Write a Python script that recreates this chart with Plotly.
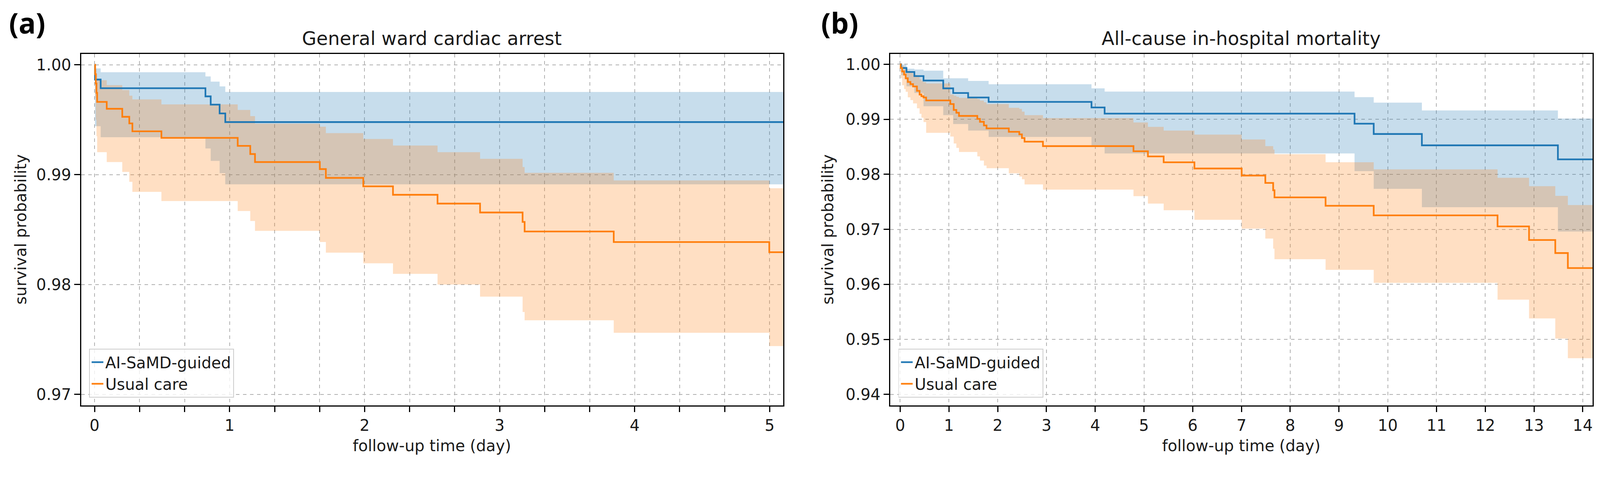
import plotly.graph_objects as go

# reference is 4282x1238; the page viewport works out to about 4096x1184 css px,
# and the body keeps its default 8px margin
K = 4096 / 4282
PAGE_MARGIN = 8
W, H = 4096 - 2 * PAGE_MARGIN, 1184 - 2 * PAGE_MARGIN
FONT = "DejaVu Sans"
TEXT = "#1a1a1a"
BLUE, ORANGE = "#1f77b4", "#ff7f0e"
BLUE_CI, ORANGE_CI = "rgba(31,119,180,0.25)", "rgba(255,127,14,0.25)"

GROUPS = ["AI-SaMD-guided", "Usual care"]

# (a) General ward cardiac arrest
a_ai_days = [0, 0.003, 0.045, 0.821, 0.860, 0.926, 0.968]
a_ai_surv = [1.0, 0.99866, 0.99787, 0.99713, 0.99638, 0.99558, 0.99479]
a_ai_lo = [1.0, 0.99442, 0.99341, 0.99239, 0.99126, 0.99014, 0.98912]
a_ai_hi = [1.0, 0.99967, 0.99933, 0.99894, 0.99847, 0.99804, 0.99753]

a_uc_days = [0, 0.004, 0.009, 0.014, 0.019, 0.09, 0.205, 0.257, 0.28, 0.495, 1.06, 1.153,
             1.188, 1.668, 1.713, 1.99, 2.21, 2.54, 2.855, 3.17, 3.185, 3.845, 4.997]
a_uc_surv = [1.0, 0.99915, 0.9983, 0.99745, 0.99663, 0.9960, 0.99527, 0.99467, 0.99395, 0.99335,
             0.99262, 0.99188, 0.99115, 0.99051, 0.98971, 0.98894, 0.98817, 0.98737, 0.98656,
             0.9857, 0.98483, 0.98387, 0.98294]
a_uc_lo = [1.0, 0.9970, 0.9950, 0.9935, 0.99205, 0.99115, 0.99025, 0.98935, 0.98844, 0.9876,
           0.98669, 0.98579, 0.98489, 0.98387, 0.9829, 0.98193, 0.98097, 0.98, 0.9789, 0.9775,
           0.97675, 0.97561, 0.9744]
a_uc_hi = [1.0, 1.0, 0.9996, 0.9992, 0.9986, 0.99815, 0.9977, 0.99719, 0.99685, 0.9964, 0.99589,
           0.99533, 0.99465, 0.99437, 0.99378, 0.99325, 0.99265, 0.99205, 0.99144, 0.9907,
           0.99017, 0.98948, 0.98877]
a_last_obs = 5.2

# (b) All-cause in-hospital mortality
b_ai_days = [0, 0.02, 0.129, 0.291, 0.479, 0.883, 1.087, 1.394, 1.814, 3.924, 4.193, 9.319,
             9.712, 10.70, 13.49]
b_ai_surv = [1.0, 0.99933, 0.9986, 0.99786, 0.99705, 0.99563, 0.99478, 0.99397, 0.99317,
             0.99215, 0.99103, 0.9892, 0.98733, 0.98527, 0.98272]
b_ai_lo = [1.0, 0.9980, 0.9960, 0.9948, 0.99237, 0.99076, 0.98915, 0.98795, 0.98679, 0.9850,
           0.98379, 0.98058, 0.97736, 0.97402, 0.9696]
b_ai_hi = [1.0, 0.99995, 0.9992, 0.99905, 0.99885, 0.99746, 0.99746, 0.99697, 0.99638, 0.99563,
           0.99504, 0.99403, 0.99304, 0.99162, 0.99014]

b_uc_days = [0, 0.01, 0.04, 0.08, 0.113, 0.156, 0.21, 0.264, 0.344, 0.398, 0.436, 0.479, 0.533,
             1.028, 1.098, 1.152, 1.206, 1.582, 1.636, 1.717, 1.771, 2.228, 2.443, 2.497, 2.551,
             2.928, 4.785, 5.081, 5.404, 6.035, 7.004, 7.489, 7.65, 7.677, 8.725, 9.712, 12.252,
             12.898, 13.436, 13.694]
b_uc_surv = [1.0, 0.99933, 0.9987, 0.99812, 0.99746, 0.99679, 0.9964, 0.99598, 0.99518, 0.99451,
             0.9942, 0.99397, 0.99344, 0.99277, 0.9917, 0.9912, 0.99062, 0.99008, 0.98955,
             0.98888, 0.98835, 0.98773, 0.98727, 0.9866, 0.98594, 0.98513, 0.9842, 0.98326,
             0.98219, 0.98106, 0.97978, 0.97844, 0.9771, 0.97581, 0.97428, 0.97254, 0.97053,
             0.96806, 0.96569, 0.96297]
b_uc_lo = [1.0, 0.9975, 0.9962, 0.9955, 0.9950, 0.9940, 0.9935, 0.9929, 0.9920, 0.9910, 0.9903,
           0.9895, 0.98754, 0.98687, 0.9856, 0.9848, 0.98406, 0.98326, 0.9825, 0.9816, 0.98111,
           0.98018, 0.9796, 0.97911, 0.97817, 0.97723, 0.97603, 0.97469, 0.97348, 0.97174,
           0.97014, 0.96833, 0.9665, 0.96458, 0.96264, 0.96028, 0.95722, 0.95381, 0.95014,
           0.94658]
b_uc_hi = [1.0, 0.99995, 0.9997, 0.9994, 0.9991, 0.9988, 0.9985, 0.9981, 0.9977, 0.9973, 0.9970,
           0.99675, 0.99652, 0.99451, 0.9943, 0.9941, 0.9939, 0.9937, 0.9934, 0.9931, 0.99277,
           0.9921, 0.9919, 0.9914, 0.99076, 0.99022, 0.98942, 0.98862, 0.98795, 0.98722, 0.98634,
           0.98513, 0.9845, 0.98366, 0.98219, 0.9809, 0.97937, 0.97785, 0.97608, 0.97442]
b_last_obs = 14.4


def extend(vals, end=None):
    # carry the last value on to the end of follow-up
    return list(vals) + [end if end is not None else vals[-1]]


def sz(v):
    return v * K


def add_band(fig, days, lo, hi, last_obs, ci_color, xa, ya):
    x = extend(days, last_obs)
    fig.add_trace(go.Scatter(x=x, y=extend(hi), mode="lines", line=dict(width=0, shape="hv"),
                             showlegend=False, hoverinfo="skip", xaxis=xa, yaxis=ya))
    fig.add_trace(go.Scatter(x=x, y=extend(lo), mode="lines", line=dict(width=0, shape="hv"),
                             fill="tonexty", fillcolor=ci_color, showlegend=False,
                             hoverinfo="skip", xaxis=xa, yaxis=ya))


def add_curve(fig, days, surv, last_obs, name, color, xa, ya, legend):
    fig.add_trace(go.Scatter(x=extend(days, last_obs), y=extend(surv), mode="lines", name=name,
                             line=dict(color=color, width=sz(4.5), shape="hv"),
                             xaxis=xa, yaxis=ya, legend=legend, legendgroup=name))


fig = go.Figure()
# bands first so both curves sit on top, as in matplotlib
add_band(fig, a_ai_days, a_ai_lo, a_ai_hi, a_last_obs, BLUE_CI, "x", "y")
add_band(fig, a_uc_days, a_uc_lo, a_uc_hi, a_last_obs, ORANGE_CI, "x", "y")
add_band(fig, b_ai_days, b_ai_lo, b_ai_hi, b_last_obs, BLUE_CI, "x2", "y2")
add_band(fig, b_uc_days, b_uc_lo, b_uc_hi, b_last_obs, ORANGE_CI, "x2", "y2")
add_curve(fig, a_ai_days, a_ai_surv, a_last_obs, GROUPS[0], BLUE, "x", "y", "legend")
add_curve(fig, a_uc_days, a_uc_surv, a_last_obs, GROUPS[1], ORANGE, "x", "y", "legend")
add_curve(fig, b_ai_days, b_ai_surv, b_last_obs, GROUPS[0], BLUE, "x2", "y2", "legend2")
add_curve(fig, b_uc_days, b_uc_surv, b_last_obs, GROUPS[1], ORANGE, "x2", "y2", "legend2")


# positions below are measured in reference pixels
def px_x(p):
    return (p * K - PAGE_MARGIN) / W


def px_y(p):
    return 1 - (p * K - PAGE_MARGIN) / H


axis_style = dict(
    showline=True, linecolor="black", linewidth=sz(3), mirror=True,
    ticks="outside", ticklen=sz(15), tickwidth=sz(3), tickcolor="black",
    showgrid=True, gridcolor="#b0b0b0", gridwidth=sz(2), griddash="dash",
    zeroline=False, automargin=False,
    tickfont=dict(family=FONT, size=sz(42), color=TEXT),
)

a_ticks = [k / 3 for k in range(16)]
a_ticktext = [str(k // 3) if k % 3 == 0 else "" for k in range(16)]

legend_style = dict(xanchor="left", yanchor="bottom", traceorder="normal",
                    bgcolor="rgba(255,255,255,0.8)", bordercolor="#cccccc", borderwidth=sz(2),
                    font=dict(family=FONT, size=sz(42), color=TEXT), tracegroupgap=sz(10))

fig.update_layout(
    width=W, height=H,
    margin=dict(l=0, r=0, t=0, b=0),
    paper_bgcolor="white", plot_bgcolor="white",
    font=dict(family=FONT, size=sz(42), color=TEXT),
    xaxis=dict(axis_style, domain=[px_x(217), px_x(2096)], range=[-0.1, 5.1],
               tickvals=a_ticks, ticktext=a_ticktext, anchor="y"),
    yaxis=dict(axis_style, domain=[px_y(1084), px_y(144)], range=[0.969, 1.001],
               dtick=0.01, tickformat=".2f", anchor="x"),
    xaxis2=dict(axis_style, domain=[px_x(2383), px_x(4262)], range=[-0.2, 14.2],
                dtick=1, tick0=0, anchor="y2"),
    yaxis2=dict(axis_style, domain=[px_y(1084), px_y(144)], range=[0.938, 1.0019],
                dtick=0.01, tickformat=".2f", anchor="x2"),
    legend=dict(legend_style, x=px_x(238), y=px_y(1063)),
    legend2=dict(legend_style, x=px_x(2404), y=px_y(1063)),
)

notes = [
    ("(a)", 73, 60, 0, dict(family="Open Sans", size=sz(76), color="black", weight="bold")),
    ("(b)", 2247, 60, 0, dict(family="Open Sans", size=sz(76), color="black", weight="bold")),
    ("General ward cardiac arrest", 1156, 103, 0, dict(family=FONT, size=sz(50), color=TEXT)),
    ("All-cause in-hospital mortality", 3322, 103, 0, dict(family=FONT, size=sz(50), color=TEXT)),
    ("follow-up time (day)", 1156, 1192, 0, dict(family=FONT, size=sz(42), color=TEXT)),
    ("follow-up time (day)", 3322, 1192, 0, dict(family=FONT, size=sz(42), color=TEXT)),
    ("survival probability", 56, 614, -90, dict(family=FONT, size=sz(42), color=TEXT)),
    ("survival probability", 2216, 614, -90, dict(family=FONT, size=sz(42), color=TEXT)),
]
for text, x, y, angle, font in notes:
    fig.add_annotation(text=text, x=px_x(x), y=px_y(y), xref="paper", yref="paper",
                       xanchor="center", yanchor="middle", showarrow=False,
                       textangle=angle, font=font)

fig.write_html("out.html")
